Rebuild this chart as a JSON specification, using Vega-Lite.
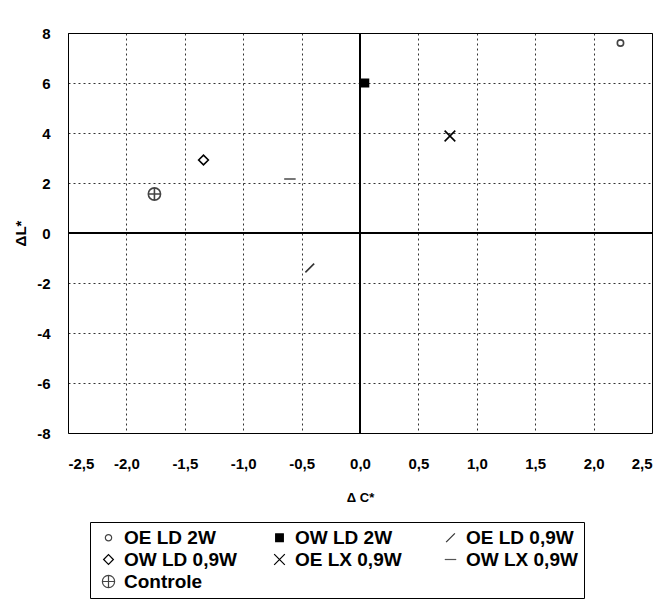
{
  "$schema": "https://vega.github.io/schema/vega-lite/v6.json",
  "autosize": {"type": "none"},
  "width": 584,
  "height": 400,
  "padding": {"left": 68, "top": 33, "right": 17, "bottom": 177},
  "background": "white",
  "config": {
    "view": {"stroke": "black", "strokeWidth": 1},
    "font": "Liberation Sans"
  },
  "data": {
    "values": [
      {"serie": "OE LD 2W", "dC": 2.23, "dL": 7.6},
      {"serie": "OW LD 2W", "dC": 0.04, "dL": 6.0},
      {"serie": "OE LD 0,9W", "dC": -0.43, "dL": -1.4},
      {"serie": "OW LD 0,9W", "dC": -1.34, "dL": 2.92},
      {"serie": "OE LX 0,9W", "dC": 0.77, "dL": 3.88},
      {"serie": "OW LX 0,9W", "dC": -0.6, "dL": 2.16},
      {"serie": "Controle", "dC": -1.76, "dL": 1.56}
    ]
  },
  "layer": [
    {
      "mark": {"type": "rule", "color": "black", "strokeWidth": 1.5},
      "encoding": {"x": {"datum": 0, "type": "quantitative", "scale": {"domain": [-2.5, 2.5]}}}
    },
    {
      "mark": {"type": "rule", "color": "black", "strokeWidth": 1.5},
      "encoding": {"y": {"datum": 0, "type": "quantitative", "scale": {"domain": [-8, 8]}}}
    },
    {
      "mark": {"type": "point", "strokeWidth": 1.6, "opacity": 1},
      "encoding": {
        "x": {
          "field": "dC", "type": "quantitative",
          "scale": {"domain": [-2.5, 2.5], "nice": false, "zero": false},
          "axis": {
            "title": "Δ C*", "values": [-2.5, -2, -1.5, -1, -0.5, 0, 0.5, 1, 1.5, 2, 2.5],
            "labelExpr": "replace(replace(format(datum.value, '.1f'), '.', ','), '−', '-')",
            "grid": true, "gridColor": "black", "gridDash": [2, 3], "gridOpacity": 0.8,
            "domain": false, "ticks": false, "labelPadding": 23,
            "labelFontSize": 15, "labelFontWeight": "bold", "labelColor": "black",
            "titleFontSize": 13, "titleFontWeight": "bold", "titleColor": "black", "titlePadding": 20
          }
        },
        "y": {
          "field": "dL", "type": "quantitative",
          "scale": {"domain": [-8, 8], "nice": false, "zero": false},
          "axis": {
            "title": "ΔL*", "values": [-8, -6, -4, -2, 0, 2, 4, 6, 8],
            "labelExpr": "replace(format(datum.value, 'd'), '−', '-')",
            "grid": true, "gridColor": "black", "gridDash": [2, 3], "gridOpacity": 0.8,
            "domain": false, "ticks": false, "labelPadding": 18,
            "labelFontSize": 15, "labelFontWeight": "bold", "labelColor": "black",
            "titleFontSize": 15, "titleFontWeight": "bold", "titleColor": "black", "titlePadding": 8
          }
        },
        "shape": {
          "field": "serie", "type": "nominal",
          "scale": {
            "domain": ["OE LD 2W", "OW LD 2W", "OE LD 0,9W", "OW LD 0,9W", "OE LX 0,9W", "OW LX 0,9W", "Controle"],
            "range": ["circle", "square", "M-1,1L1,-1", "diamond", "M-1,-1L1,1M-1,1L1,-1", "M-1,0L1,0", "M-1,0A1,1,0,1,1,1,0A1,1,0,1,1,-1,0ZM-1,0L1,0M0,-1L0,1"]
          },
          "legend": {
            "title": null, "orient": "none", "legendX": 22, "legendY": 489,
            "direction": "horizontal", "columns": 3, "columnPadding": 30, "rowPadding": 2,
            "gridAlign": "all", "symbolOffset": 3,
            "padding": 6, "strokeColor": "black", "fillColor": "white",
            "labelFontSize": 19, "labelFontWeight": "bold", "labelColor": "black", "labelFont": "Liberation Sans",
            "symbolStrokeWidth": 1.2, "labelOffset": 6
          }
        },
        "fill": {
          "field": "serie", "type": "nominal",
          "scale": {
            "domain": ["OE LD 2W", "OW LD 2W", "OE LD 0,9W", "OW LD 0,9W", "OE LX 0,9W", "OW LX 0,9W", "Controle"],
            "range": ["transparent", "black", "transparent", "transparent", "transparent", "transparent", "transparent"]
          }
        },
        "stroke": {
          "field": "serie", "type": "nominal",
          "scale": {
            "domain": ["OE LD 2W", "OW LD 2W", "OE LD 0,9W", "OW LD 0,9W", "OE LX 0,9W", "OW LX 0,9W", "Controle"],
            "range": ["#444444", "black", "#333333", "black", "black", "#555555", "#444444"]
          }
        },
        "size": {
          "field": "serie", "type": "nominal",
          "scale": {
            "domain": ["OE LD 2W", "OW LD 2W", "OE LD 0,9W", "OW LD 0,9W", "OE LX 0,9W", "OW LX 0,9W", "Controle"],
            "range": [40, 150, 60, 160, 180, 100, 80]
          }
        }
      }
    }
  ]
}
